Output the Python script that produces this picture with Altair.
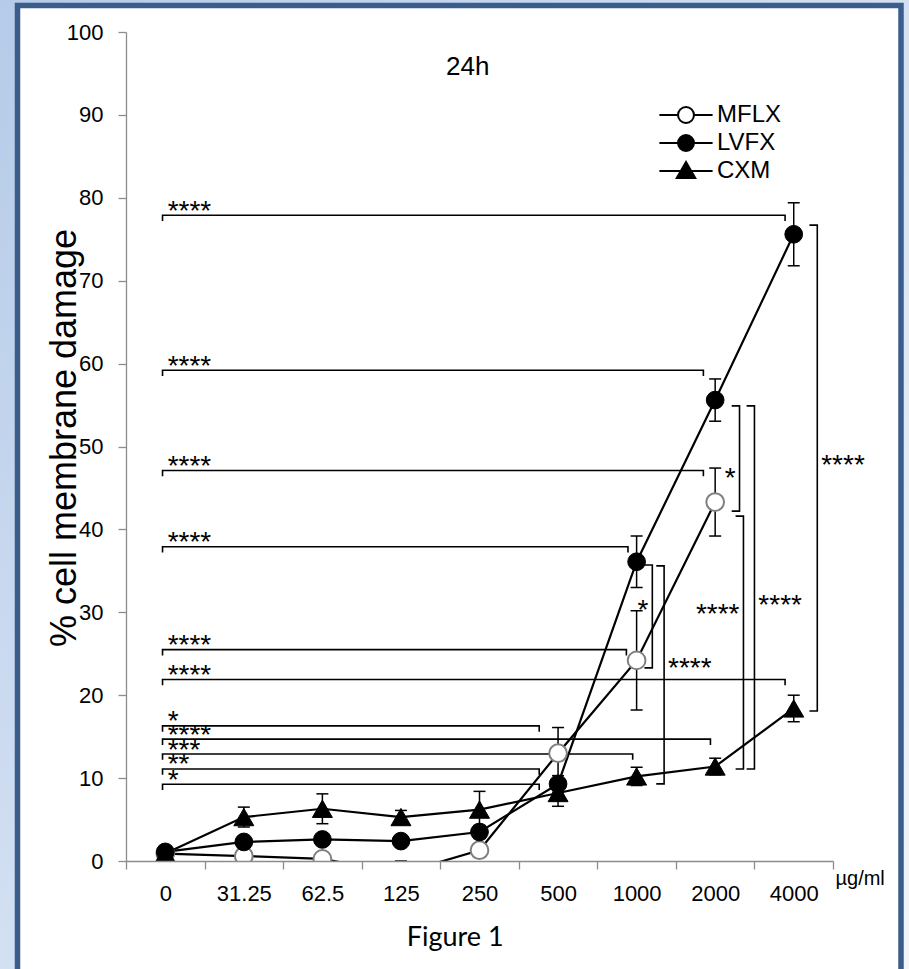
import altair as alt
import pandas as pd

# ---------------- data ----------------
concentrations = ["0", "31.25", "62.5", "125", "250", "500", "1000", "2000", "4000"]
series_names = ["MFLX", "LVFX", "CXM"]

mflx_mean = [0.9, 0.6, 0.25, -1.5, 1.3, 13.0, 24.2, 43.3, None]
mflx_sd = [0.3, 0.3, 0.3, 1.5, 0.5, 3.1, 6.0, 4.1, None]
lvfx_mean = [1.1, 2.3, 2.6, 2.4, 3.5, 9.3, 36.1, 55.6, 75.6]
lvfx_sd = [0.6, 0.5, 0.5, 0.4, 0.8, 1.0, 3.1, 2.55, 3.8]
cxm_mean = [0.9, 5.3, 6.3, 5.3, 6.2, 8.2, 10.2, 11.4, 18.4]
cxm_sd = [0.3, 1.2, 1.8, 0.8, 2.2, 1.6, 1.1, 1.0, 1.6]

y_ticks = list(range(0, 101, 10))

# horizontal significance brackets (from the 0 group to a target)
h_bracket_y = [77.9, 59.2, 47.1, 37.9, 25.5, 21.9, 16.3, 14.7, 12.9, 11.1, 9.25]
h_bracket_end = [8.39, 7.35, 7.35, 6.39, 6.37, 8.39, 5.26, 7.44, 6.45, 5.26, 5.26]
h_bracket_label = ["****", "****", "****", "****", "****", "****", "*", "****", "***", "**", "*"]

# vertical significance brackets (between drugs at one concentration)
v_bracket_x = [6.70, 6.85, 7.81, 7.86, 8.00, 8.80]
v_bracket_top = [35.7, 35.6, 54.9, 41.6, 54.9, 76.7]
v_bracket_bottom = [23.3, 9.3, 42.2, 11.1, 11.1, 18.1]
v_bracket_label = ["*", "****", "*", "****", "****", "****"]
v_label_side = ["left", "right", "left", "left", "right", "right"]
v_label_y = [30.9, 23.9, 46.8, 30.4, 31.5, 48.4]

# free text annotations (text, x in category units, y in % units)
notes = [("24h", 4.35, 95.8, 26, "Liberation Sans, Arial, sans-serif"),
         ("Figure 1", 4.19, -9.3, 27, "Lato, Open Sans, sans-serif")]

# ---------------- frames ----------------
rows = []
for name, means, sds in zip(series_names, [mflx_mean, lvfx_mean, cxm_mean],
                            [mflx_sd, lvfx_sd, cxm_sd]):
    for i, (m, s) in enumerate(zip(means, sds)):
        if m is None:
            continue
        rows.append({"series": name, "x": i + 0.5, "y": m, "lo": m - s, "hi": m + s})
df = pd.DataFrame(rows)

H_X0 = 0.465
TICK_Y = 0.7
TICK_X = 0.1
brk = []
for k, (yv, xe) in enumerate(zip(h_bracket_y, h_bracket_end)):
    pts = [(H_X0, yv - TICK_Y), (H_X0, yv), (xe, yv), (xe, yv - TICK_Y)]
    for o, (px, py) in enumerate(pts):
        brk.append({"id": f"h{k}", "o": o, "bx": px, "by": py})
for k, (xv, t, b) in enumerate(zip(v_bracket_x, v_bracket_top, v_bracket_bottom)):
    pts = [(xv - TICK_X, t), (xv, t), (xv, b), (xv - TICK_X, b)]
    for o, (px, py) in enumerate(pts):
        brk.append({"id": f"v{k}", "o": o, "bx": px, "by": py})
brk_df = pd.DataFrame(brk)

hlab_df = pd.DataFrame({"tx": [0.53] * len(h_bracket_y), "ty": h_bracket_y,
                        "txt": h_bracket_label})
vlab_df = pd.DataFrame({
    "tx": [x - 0.05 if s == "left" else x + 0.05 for x, s in zip(v_bracket_x, v_label_side)],
    "ty": v_label_y, "txt": v_bracket_label, "side": v_label_side})
one = pd.DataFrame({"k": [0]})
legend_df = pd.DataFrame({"series": series_names})

# ---------------- geometry / style ----------------
W, H = 707, 829
PL, PT = 126, 32
FONT = "Liberation Sans, Arial, sans-serif"
AXC = "#8c8c8c"

xs = alt.Scale(domain=[0, 9], nice=False, zero=False)
ys = alt.Scale(domain=[0, 100], nice=False, zero=False)

label_expr = "[" + ",".join(f"'{c}'" for c in concentrations) + "][datum.value] || ''"

x_axis = alt.Axis(values=list(range(10)), labelExpr=label_expr, labelOffset=W / 18,
                  title="µg/ml", titleX=W + 2, titleY=17, titleAlign="left",
                  titleAnchor="start", titleBaseline="middle", titleFontSize=20,
                  titleFontWeight="normal", titleFont=FONT, titleColor="black",
                  tickSize=8, labelPadding=14, labelFlush=False, labelOverlap=False,
                  labelFontSize=22, labelFont=FONT, labelColor="black",
                  grid=False, domainColor=AXC, tickColor=AXC, domainWidth=1.3,
                  tickWidth=1.3, zindex=1)
y_axis = alt.Axis(values=y_ticks, title="% cell membrane damage", titleX=-51,
                  titleY=H / 2 - 9, titleAngle=-90, titleAlign="center",
                  titleBaseline="alphabetic", titleFontSize=36, titleFontWeight="normal",
                  titleFont=FONT, titleColor="black",
                  tickSize=8, labelPadding=15, labelFlush=False, labelOverlap=False,
                  labelFontSize=22, labelFont=FONT, labelColor="black",
                  grid=False, domainColor=AXC, tickColor=AXC, domainWidth=1.3,
                  tickWidth=1.3, zindex=1)

# ---------------- decoration ----------------
bg = alt.Chart(one).mark_rect(
    fill=alt.Gradient(gradient="linear",
                      stops=[alt.GradientStop(color="#b5cbe9", offset=0),
                             alt.GradientStop(color="#f1f5fb", offset=1)],
                      x1=0, x2=1, y1=0, y2=1)
).encode(x=alt.value(-PL), x2=alt.value(909 - PL), y=alt.value(-PT), y2=alt.value(969 - PT))

panel = alt.Chart(one).mark_rect(fill="white", stroke="#3b5d8c", strokeWidth=5.5).encode(
    x=alt.value(17.5 - PL), x2=alt.value(901 - PL), y=alt.value(5.5 - PT), y2=alt.value(985 - PT))

# ---------------- data layers ----------------
lines = alt.Chart(df).mark_line(color="black", strokeWidth=2.2, clip=True).encode(
    x=alt.X("x:Q", scale=xs, axis=x_axis),
    y=alt.Y("y:Q", scale=ys, axis=y_axis),
    detail="series:N")

err = alt.Chart(df).mark_rule(color="black", strokeWidth=1.5, clip=True).encode(
    x=alt.X("x:Q", scale=xs), y=alt.Y("lo:Q", scale=ys), y2="hi:Q")
cap_lo = alt.Chart(df).mark_tick(orient="horizontal", color="black", size=12, thickness=1.5,
                                 clip=True, opacity=1).encode(
    x=alt.X("x:Q", scale=xs), y=alt.Y("lo:Q", scale=ys))
cap_hi = alt.Chart(df).mark_tick(orient="horizontal", color="black", size=12, thickness=1.5,
                                 clip=True, opacity=1).encode(
    x=alt.X("x:Q", scale=xs), y=alt.Y("hi:Q", scale=ys))

marker_style = {
    "MFLX": dict(shape="circle", fill="white", stroke="#7f7f7f", strokeWidth=2, size=314),
    "LVFX": dict(shape="circle", fill="black", stroke="black", strokeWidth=1, size=314),
    "CXM": dict(shape="triangle-up", fill="black", stroke="black", strokeWidth=1, size=400),
}
point_layers = []
for name in series_names:
    point_layers.append(
        alt.Chart(df).transform_filter(alt.datum.series == name)
        .mark_point(filled=True, opacity=1, clip=True, **marker_style[name])
        .encode(x=alt.X("x:Q", scale=xs), y=alt.Y("y:Q", scale=ys)))

brackets = alt.Chart(brk_df).mark_line(color="black", strokeWidth=1.6).encode(
    x=alt.X("bx:Q", scale=xs), y=alt.Y("by:Q", scale=ys), detail="id:N", order="o:Q")

hlabels = alt.Chart(hlab_df).mark_text(font=FONT, fontSize=28, align="left",
                                       baseline="alphabetic", dy=4.5, color="black").encode(
    x=alt.X("tx:Q", scale=xs), y=alt.Y("ty:Q", scale=ys), text="txt:N")
vlabels_l = alt.Chart(vlab_df).transform_filter(alt.datum.side == "left").mark_text(
    font=FONT, fontSize=28, align="right", baseline="alphabetic", dy=14, color="black").encode(
    x=alt.X("tx:Q", scale=xs), y=alt.Y("ty:Q", scale=ys), text="txt:N")
vlabels_r = alt.Chart(vlab_df).transform_filter(alt.datum.side == "right").mark_text(
    font=FONT, fontSize=28, align="left", baseline="alphabetic", dy=14, color="black").encode(
    x=alt.X("tx:Q", scale=xs), y=alt.Y("ty:Q", scale=ys), text="txt:N")

note_layers = []
for txt, nx, ny, fs, fnt in notes:
    note_layers.append(
        alt.Chart(pd.DataFrame({"tx": [nx], "ty": [ny], "txt": [txt]}))
        .mark_text(font=fnt, fontSize=fs, align="center", baseline="middle", color="black")
        .encode(x=alt.X("tx:Q", scale=xs), y=alt.Y("ty:Q", scale=ys), text="txt:N"))

# legend: line + marker symbols (paths reach beyond the unit box on purpose)
legend_paths = [
    "M-1.9,0H-0.57M0.57,0H1.9M0.57,0A0.57,0.57,0,1,1,-0.57,0A0.57,0.57,0,1,1,0.57,0Z",
    "M-1.9,0H1.9M0.57,0A0.57,0.57,0,1,1,-0.57,0A0.57,0.57,0,1,1,0.57,0Z",
    "M-1.9,0H1.9M0,-0.64L0.66,0.5L-0.66,0.5Z",
]
leg = alt.Legend(title=None, orient="none", legendX=545, legendY=68,
                 labelFont=FONT, labelFontSize=24, labelColor="black", labelOffset=16,
                 symbolSize=784, symbolStrokeWidth=2, symbolStrokeColor="black",
                 rowPadding=1, padding=0)
legend_layer = alt.Chart(legend_df).transform_filter("false").mark_point(
    filled=True, strokeWidth=2, size=784, opacity=1).encode(
    shape=alt.Shape("series:N", scale=alt.Scale(domain=series_names, range=legend_paths),
                    legend=leg),
    fill=alt.Fill("series:N", scale=alt.Scale(domain=series_names,
                                              range=["white", "black", "black"]),
                  legend=leg),
    stroke=alt.Stroke("series:N", scale=alt.Scale(domain=series_names,
                                                  range=["black", "black", "black"]),
                      legend=leg))

chart = alt.layer(
    bg, panel, lines, brackets, err, cap_lo, cap_hi, *point_layers,
    hlabels, vlabels_l, vlabels_r, *note_layers, legend_layer
).properties(
    width=W, height=H,
    padding={"left": PL, "top": PT, "right": 909 - PL - W, "bottom": 969 - PT - H},
    autosize=alt.AutoSizeParams(type="none"),
).configure_view(stroke=None).configure(background="#e6edf7")

chart.save("out.html", embed_options={"renderer": "svg", "actions": False})
